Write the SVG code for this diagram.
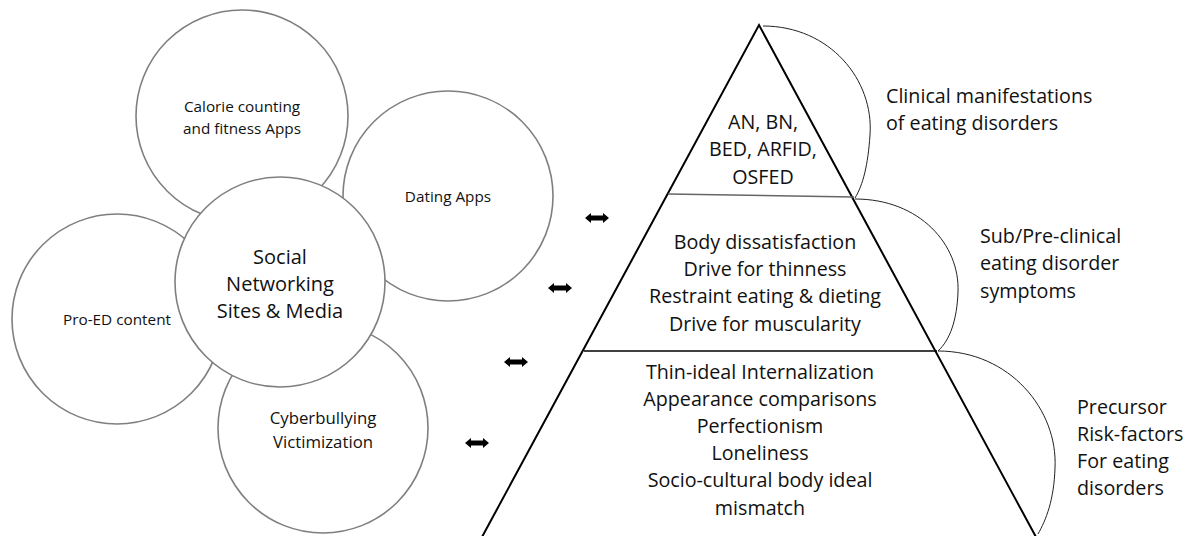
<svg xmlns="http://www.w3.org/2000/svg" width="1188" height="536" viewBox="0 0 1188 536">
<defs>
<style>
.c{fill:#fff;stroke:#7f7f7f;stroke-width:1.6}
.t{font-family:"Open Sans","Liberation Sans",sans-serif;fill:#111;text-anchor:middle}
.s{font-size:15.3px}
.cb{font-size:16.8px}
.m{font-size:19.7px}
.ctr{font-size:20px}
.l{text-anchor:start}
.edge{stroke:#000;stroke-width:2;fill:none}
.arc{stroke:#222;stroke-width:1;fill:none}
</style>
<path id="dbl" d="M-12,0 L-6,-5 L-6,-2.4 L6,-2.4 L6,-5 L12,0 L6,5 L6,2.4 L-6,2.4 L-6,5 Z" fill="#000"/>
</defs>
<rect width="1188" height="536" fill="#fff"/>

<g id="calorie">
<circle class="c" cx="242" cy="116" r="106"/>
<text class="t s" x="242" y="112">Calorie counting</text>
<text class="t s" x="242" y="134">and fitness Apps</text>
</g>
<g id="dating">
<circle class="c" cx="448" cy="196" r="105"/>
<text class="t s" x="448" y="202">Dating Apps</text>
</g>
<g id="proed">
<circle class="c" cx="117" cy="319" r="105"/>
<text class="t s" x="117" y="325">Pro-ED content</text>
</g>
<g id="cyber">
<circle class="c" cx="323" cy="428" r="105"/>
<text class="t cb" x="323" y="424">Cyberbullying</text>
<text class="t cb" x="323" y="448">Victimization</text>
</g>
<g id="social">
<circle class="c" cx="280" cy="282" r="105"/>
<text class="t ctr" x="280" y="264">Social</text>
<text class="t ctr" x="280" y="291">Networking</text>
<text class="t ctr" x="280" y="318">Sites &amp; Media</text>
</g>

<g id="pyramid">
<path class="edge" d="M482,537 L759,25 L1036,537"/>
<line x1="668" y1="194" x2="854" y2="197" stroke="#666" stroke-width="1.6"/>
<line x1="584" y1="351" x2="937" y2="351" stroke="#000" stroke-width="1.5"/>
</g>

<g id="tier-top">
<text class="t m" x="763" y="129">AN, BN,</text>
<text class="t m" x="763" y="156">BED, ARFID,</text>
<text class="t m" x="763" y="184">OSFED</text>
</g>
<g id="tier-middle">
<text class="t m" x="765" y="249">Body dissatisfaction</text>
<text class="t m" x="765" y="276">Drive for thinness</text>
<text class="t m" x="765" y="303">Restraint eating &amp; dieting</text>
<text class="t m" x="765" y="331">Drive for muscularity</text>
</g>
<g id="tier-bottom">
<text class="t m" x="760" y="379">Thin-ideal Internalization</text>
<text class="t m" x="760" y="406">Appearance comparisons</text>
<text class="t m" x="760" y="433">Perfectionism</text>
<text class="t m" x="760" y="460">Loneliness</text>
<text class="t m" x="760" y="487">Socio-cultural body ideal</text>
<text class="t m" x="760" y="515">mismatch</text>
</g>

<g id="brackets">
<path class="arc" d="M763,26 C830,26 874,80 870,135 C868,165 863,185 855,198"/>
<path class="arc" d="M855,199 C920,199 960,245 958,292 C957,320 950,340 938,351"/>
<path class="arc" d="M938,351 C1010,351 1058,410 1055,468 C1054,500 1046,520 1038,534"/>
</g>

<g id="label-clinical">
<text class="t m l" x="886" y="103">Clinical manifestations</text>
<text class="t m l" x="886" y="130">of eating disorders</text>
</g>
<g id="label-sub">
<text class="t m l" x="980" y="243">Sub/Pre-clinical</text>
<text class="t m l" x="980" y="270">eating disorder</text>
<text class="t m l" x="980" y="298">symptoms</text>
</g>
<g id="label-precursor">
<text class="t m l" x="1077" y="414">Precursor</text>
<text class="t m l" x="1077" y="441">Risk-factors</text>
<text class="t m l" x="1077" y="468">For eating</text>
<text class="t m l" x="1077" y="495">disorders</text>
</g>

<g id="connectors">
<use href="#dbl" x="597" y="218"/>
<use href="#dbl" x="560" y="288"/>
<use href="#dbl" x="516" y="362"/>
<use href="#dbl" x="477" y="443"/>
</g>
</svg>
